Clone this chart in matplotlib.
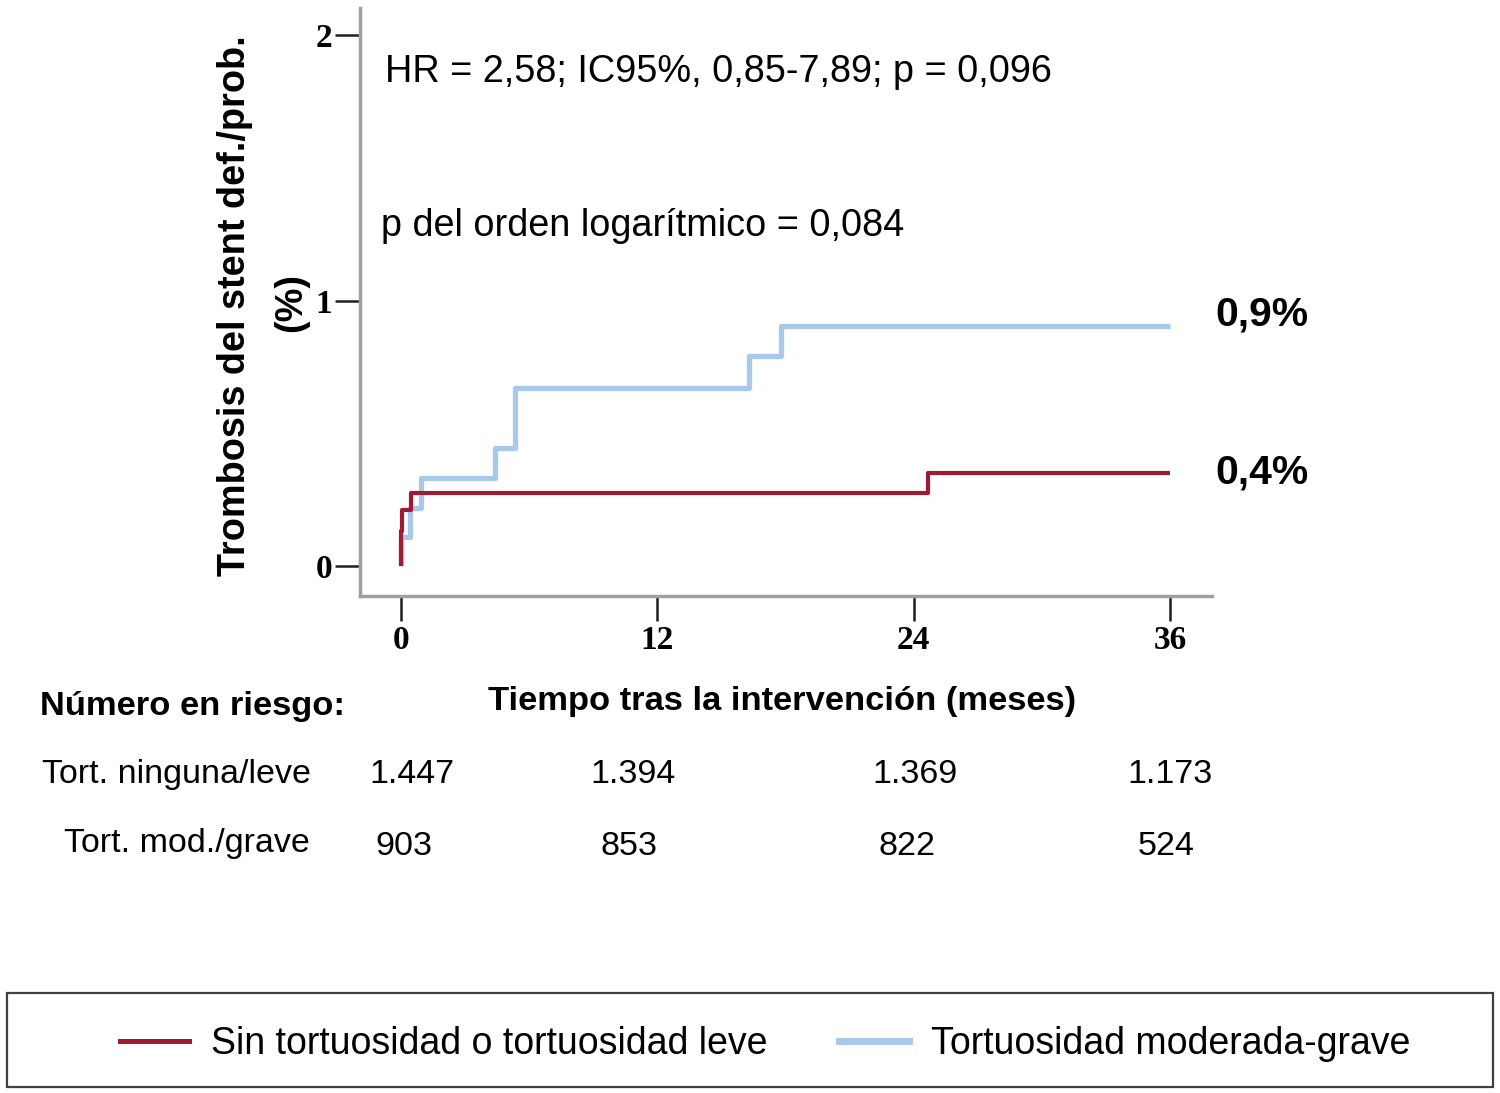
import matplotlib
matplotlib.use("Agg")
import matplotlib.pyplot as plt
from matplotlib.lines import Line2D
from matplotlib.patches import Rectangle
import matplotlib.transforms as mtransforms

plt.rcParams['font.family'] = ['Liberation Sans', 'DejaVu Sans']

# datos (meses, incidencia acumulada %)
t_leve = [0, 0.05, 0.45, 24.65]
y_leve = [0.13, 0.21, 0.275, 0.35]
t_grave = [0, 0.42, 0.92, 4.4, 5.33, 16.3, 17.77]
y_grave = [0.11, 0.22, 0.333, 0.445, 0.67, 0.79, 0.905]
t_fin = 36

x_ticks = [0, 12, 24, 36]
y_ticks = [0, 1, 2]

riesgo_leve = ["1.447", "1.394", "1.369", "1.173"]
riesgo_grave = ["903", "853", "822", "524"]
# posiciones (meses) de los números en riesgo
pos_leve = [0.5, 10.86, 24.06, 36.0]
pos_grave = [0.14, 10.67, 23.7, 35.8]

etiquetas = ["Sin tortuosidad o tortuosidad leve", "Tortuosidad moderada-grave"]
rojo = "#9e1b32"
azul = "#a8c8ec"

W, H = 1500, 1093
fig = plt.figure(figsize=(W / 100, H / 100), dpi=100, facecolor="white")


def fx(px):
    return px / W


def fy(py):
    return 1 - py / H


ax = fig.add_axes([fx(360), fy(596), fx(1212) - fx(360), fy(8) - fy(596)])


def escalones(t, y):
    xs = [0] + list(t) + [t_fin]
    ys = [0] + list(y) + [y[-1]]
    return xs, ys


xs, ys = escalones(t_grave, y_grave)
ax.step(xs, ys, where="post", color=azul, lw=3.8, solid_capstyle="butt")
xs, ys = escalones(t_leve, y_leve)
ax.step(xs, ys, where="post", color=rojo, lw=3.0, solid_capstyle="butt")

ax.set_xlim(-1.92, 37.97)
ax.set_ylim(-0.113, 2.102)
ax.spines["top"].set_visible(False)
ax.spines["right"].set_visible(False)
for s in ["left", "bottom"]:
    ax.spines[s].set_color("#a0a0a0")
    ax.spines[s].set_linewidth(2.5)

ax.set_xticks(x_ticks)
ax.set_yticks(y_ticks)
ax.tick_params(axis="both", direction="out", length=18, width=1.8, color="#202020")
ax.tick_params(axis="x", pad=3)
ax.tick_params(axis="y", pad=2)
for lab in ax.get_xticklabels() + ax.get_yticklabels():
    lab.set_fontfamily("Liberation Serif")
    lab.set_fontweight("bold")
    lab.set_fontsize(24)

# textos dentro del gráfico
fig.text(fx(385), fy(82), "HR = 2,58; IC95%, 0,85-7,89; p = 0,096", fontsize=27.3, va="baseline")
fig.text(fx(381), fy(236), "p del orden logarítmico = 0,084", fontsize=27.3, va="baseline")
fig.text(fx(1215), fy(325), "0,9%", fontsize=29.4, fontweight="bold", va="baseline")
fig.text(fx(1215), fy(484), "0,4%", fontsize=29.4, fontweight="bold", va="baseline")

# título del eje y
fig.text(fx(235), fy(306), "Trombosis del stent def./prob.", fontsize=27.3, fontweight="bold",
         rotation=90, ha="center", va="center")
fig.text(fx(291), fy(303), "(%)", fontsize=27.3, fontweight="bold",
         rotation=90, ha="center", va="center")

# título del eje x y tabla de riesgo
fig.text(fx(782), fy(710), "Tiempo tras la intervención (meses)", fontsize=24.8,
         fontweight="bold", ha="center", va="baseline")
fig.text(fx(40), fy(715), "Número en riesgo:", fontsize=24.8, fontweight="bold", va="baseline")
fig.text(fx(311), fy(783), "Tort. ninguna/leve", fontsize=24.5, ha="right", va="baseline")
fig.text(fx(310), fy(852), "Tort. mod./grave", fontsize=24.5, ha="right", va="baseline")

trans = mtransforms.blended_transform_factory(ax.transData, fig.transFigure)
for p, n in zip(pos_leve, riesgo_leve):
    fig.text(p, fy(783), n, fontsize=24.5, ha="center", va="baseline", transform=trans)
for p, n in zip(pos_grave, riesgo_grave):
    fig.text(p, fy(855), n, fontsize=24.5, ha="center", va="baseline", transform=trans)

# leyenda
fig.patches.append(Rectangle((fx(7), fy(1087)), fx(1493) - fx(7), fy(993) - fy(1087),
                             transform=fig.transFigure, fill=False,
                             edgecolor="#404040", lw=1.6))
handles = [Line2D([], [], color=rojo, lw=3.6), Line2D([], [], color=azul, lw=5)]
fig.legend(handles, etiquetas, loc="center", bbox_to_anchor=(fx(765), fy(1044)),
           frameon=False, ncol=2, fontsize=27, handlelength=1.85,
           handletextpad=0.6, columnspacing=1.9)

fig.savefig("out.png", dpi=100, facecolor="white")
